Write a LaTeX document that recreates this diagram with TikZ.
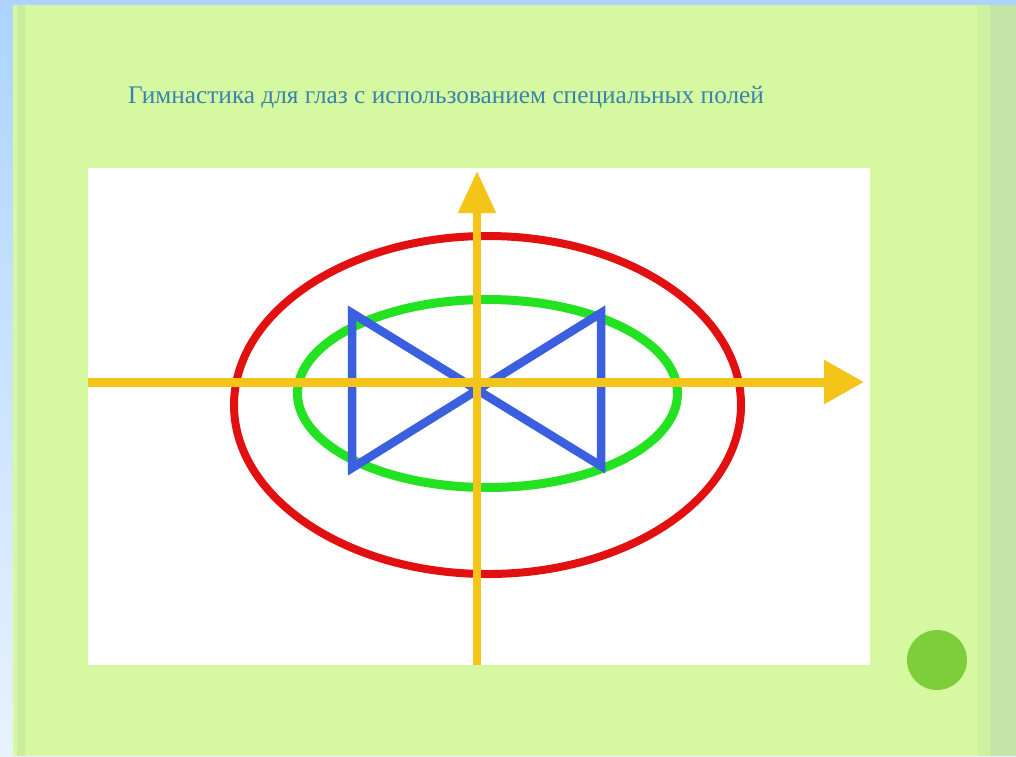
\documentclass[tikz,border=0pt]{standalone}
\usepackage{fontspec}
\setmainfont{Liberation Serif}
\usetikzlibrary{arrows.meta, shapes.geometric, positioning}

\definecolor{skyblue}{RGB}{172,212,255}
\definecolor{paleblue}{RGB}{232,242,252}
\definecolor{slidegreen}{RGB}{213,248,160}
\definecolor{edgegreen}{RGB}{202,236,160}
\definecolor{stripgreen}{RGB}{196,228,168}
\definecolor{dotgreen}{RGB}{126,206,60}
\definecolor{titleblue}{RGB}{56,132,172}
\definecolor{axisyellow}{RGB}{245,196,24}
\definecolor{orbitred}{RGB}{226,16,16}
\definecolor{orbitgreen}{RGB}{34,226,34}
\definecolor{tieblue}{RGB}{58,96,224}

\begin{document}
\begin{tikzpicture}[x=1pt, y=-1pt,
    axis/.style={line width=9pt, draw=axisyellow, -{Triangle[length=40pt, width=42pt]}},
    orbit/.style={ellipse, draw, line width=8pt, inner sep=0pt},
    bowtie/.style={draw=tieblue, line width=8.5pt, line join=miter},
    title/.style={font=\fontsize{25.3}{30}\selectfont, text=titleblue, anchor=base west, inner sep=0pt}
]
\useasboundingbox (0,0) rectangle (1016,756);

% slide background
\shade[top color=skyblue, bottom color=paleblue] (0,0) rectangle (1016,756);
\fill[slidegreen] (13,5) rectangle (1016,756);
\fill[edgegreen] (17,5) rectangle (25,756);
\fill[edgegreen!60!slidegreen] (977,5) rectangle (990,756);
\fill[stripgreen] (990,5) rectangle (1016,756);

\node[title] (heading) at (128,103) {Гимнастика для глаз с использованием специальных полей};

\node[fill=white, minimum width=782pt, minimum height=497pt, inner sep=0pt, anchor=north west] (field) at (88,168) {};
\node[circle, fill=dotgreen, minimum size=60pt, inner sep=0pt] (dot) at (937,660) {};

% ellipses
\node[orbit, draw=orbitred, minimum width=507pt, minimum height=338pt] (outer) at (487.5,405) {};
\node[orbit, draw=orbitgreen, line width=9pt, minimum width=380pt, minimum height=188pt] (inner) at (487.5,393.5) {};

% bow tie
\coordinate (tl) at (352,313);
\coordinate (bl) at (352,468);
\coordinate (tr) at (601,313);
\coordinate (br) at (601,466);
\draw[bowtie] (tl) -- (bl) -- (tr) -- (br) -- cycle;

% axes
\coordinate (xstart) at (88,382);
\coordinate (xend) at (864,382);
\coordinate (ystart) at (477,665);
\coordinate (yend) at (477,171);
\draw[axis] (xstart) -- (xend);
\draw[axis, line width=8pt, -{Triangle[length=42pt, width=36pt]}] (ystart) -- (yend);

\end{tikzpicture}
\end{document}
